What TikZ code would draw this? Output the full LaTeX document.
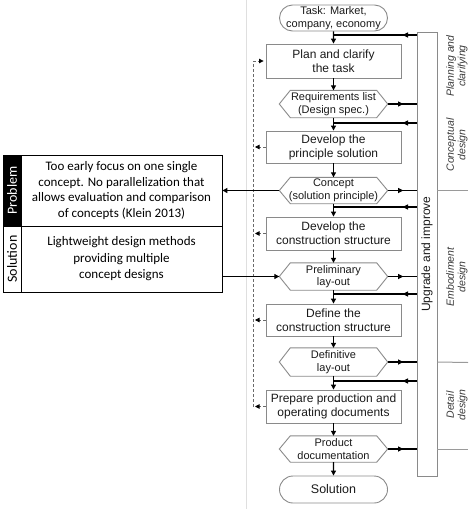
\documentclass[tikz,border=0pt]{standalone}
\usepackage{fontspec}
\setmainfont{Liberation Sans}
\newfontfamily\calfont{Carlito}
\usetikzlibrary{arrows.meta,shapes.misc,decorations.markings,calc}
\definecolor{boxgray}{HTML}{8A8A8A}
\definecolor{txt}{HTML}{1A1A1A}
\definecolor{secgray}{HTML}{9A9A9A}
\definecolor{labgray}{HTML}{3A3A3A}
\definecolor{dashgray}{HTML}{6A6A6A}
\begin{document}
\begin{tikzpicture}[x=1pt,y=-1pt,
  boxst/.style={draw=boxgray, line width=0.9pt, minimum width=135pt, minimum height=33pt, inner sep=0pt, align=center, font=\fontsize{12}{14}\selectfont, text=txt},
  hexst/.style={minimum width=108pt, minimum height=27pt, inner sep=0pt, align=center, font=\fontsize{11}{12.5}\selectfont, text=txt},
  termst/.style={draw=boxgray, rounded rectangle, line width=0.9pt, minimum width=108pt, minimum height=26pt, inner sep=0pt, align=center, text=txt},
  hexline/.style={draw=boxgray, line width=0.9pt},
  tipst/.style={-{Triangle[length=5pt,width=5pt]}},
  flow/.style={line width=1.1pt, black},
  fbin/.style={line width=1.4pt, black, postaction=decorate, decoration={markings, mark=at position 14pt with {\arrow{Triangle[length=5.5pt,width=5pt]}}}},
  fbout/.style={line width=1.4pt, black, postaction=decorate, decoration={markings, mark=at position -13pt with {\arrow{Triangle[length=5.5pt,width=5pt]}}}},
  dashst/.style={draw=dashgray, line width=0.8pt, dash pattern=on 3pt off 2pt},
  dtip/.style={-{Triangle[length=4.5pt,width=4.5pt,black]}},
  secline/.style={draw=secgray, line width=1pt},
  seclab/.style={rotate=90, align=center, text=labgray, font=\itshape\fontsize{10.5}{11.5}\selectfont},
  leftbox/.style={draw, line width=0.8pt, minimum width=201pt, inner sep=0pt, align=center},
  labbox/.style={draw, line width=0.8pt, minimum width=18pt, inner sep=0pt}
]
\useasboundingbox (0,0) rectangle (474,509);
\draw[gray!25, line width=0.8pt] (246,0) -- (246,509);

% flow nodes
\node[termst, font=\fontsize{11}{12.5}\selectfont] (task) at (333.5,18) {Task: Market,\\company, economy};
\node[boxst, minimum height=34pt] (plan) at (333.5,61) {Plan and clarify\\the task};
\node[hexst] (req) at (333.5,104) {Requirements list\\(Design spec.)};
\node[boxst, minimum height=32pt] (princ) at (333.5,147) {Develop the\\principle solution};
\node[hexst, minimum height=26pt] (concept) at (333.5,190.5) {Concept\\(solution principle)};
\node[boxst] (constr) at (333.5,233.5) {Develop the\\construction structure};
\node[hexst] (prelim) at (333.5,276.5) {Preliminary\\lay-out};
\node[boxst, minimum height=32pt] (define) at (333.5,320) {Define the\\construction structure};
\node[hexst, minimum height=28pt] (defin) at (333.5,362) {Definitive\\lay-out};
\node[boxst] (prep) at (333.5,406.5) {Prepare production and\\operating documents};
\node[hexst, minimum height=26pt] (prod) at (333.5,449) {Product\\documentation};
\node[termst, minimum height=27pt, font=\fontsize{12.5}{14}\selectfont] (sol) at (333.5,489.5) {Solution};

\foreach \n in {req,concept,prelim,defin,prod}
  \draw[hexline] (\n.west) -- ([xshift=11pt]\n.north west) -- ([xshift=-11pt]\n.north east) -- (\n.east) -- ([xshift=-11pt]\n.south east) -- ([xshift=11pt]\n.south west) -- cycle;

% bar
\node[draw=boxgray, line width=0.9pt, minimum width=20pt, minimum height=444pt, inner sep=0pt] (bar) at (427,254) {};
\node[rotate=90, text=txt, font=\fontsize{12}{14}\selectfont] (upg) at (bar.center) {Upgrade and improve};

% main flow
\draw[flow,tipst] (task) -- (plan);
\draw[flow,tipst] (plan) -- (req);
\draw[flow,tipst] (req) -- (princ);
\draw[flow,tipst] (princ) -- (concept);
\draw[flow,tipst] (concept) -- (constr);
\draw[flow,tipst] (constr) -- (prelim);
\draw[flow,tipst] (prelim) -- (define);
\draw[flow,tipst] (define) -- (defin);
\draw[flow,tipst] (defin) -- (prep);
\draw[flow,tipst] (prep) -- (prod);
\draw[flow,tipst] (prod) -- (sol);

% feedback from bar
\coordinate (f1) at (333.5,35);
\coordinate (f2) at (333.5,123);
\coordinate (f3) at (333.5,207);
\coordinate (f4) at (333.5,294);
\coordinate (f5) at (333.5,381);
\foreach \f in {f1,f2,f3,f4,f5}
  \draw[fbin] (\f -| bar.west) -- (\f);
\foreach \n in {req,concept,prelim,defin,prod}
  \draw[fbout] (\n.east) -- (\n.east -| bar.west);

% section lines and labels
\draw[secline] (bar.east |- concept.east) -- (468,190.5);
\draw[secline] (bar.east |- defin.east) -- (468,362.5);
\draw[secline] (bar.east |- prod.east) -- (468,449);
\node[seclab] (s1) at (457,66) {Planning and\\clarifying};
\node[seclab] (s2) at (457,145) {Conceptual\\design};
\node[seclab] (s3) at (457,277) {Embodiment\\design};
\node[seclab] (s4) at (457,405) {Detail\\design};

% dashed iteration line
\coordinate (dtop) at (253,61);
\coordinate (dbot) at (253,406.5);
\draw[dashst] (dbot) -- (dtop);
\draw[dashst,dtip] (dtop) -- ([xshift=-2pt]plan.west);
\foreach \n in {princ,constr,define,prep}
  \draw[dashst,dtip] (\n.west) -- ([xshift=2pt]\n.west -| dtop);

% left problem / solution box
\node[leftbox, minimum height=71pt, font=\calfont\fontsize{13}{15.7}\selectfont] (prob) at (121.5,190.5) {Too early focus on one single\\concept. No parallelization that\\allows evaluation and comparison\\of concepts (Klein 2013)};
\node[leftbox, minimum height=66pt, font=\calfont\fontsize{13}{16.5}\selectfont] (solu) at (121.5,259) {Lightweight design methods\\providing multiple\\concept designs};
\node[labbox, fill=black, minimum height=71pt] (plab) at (12,190.5) {};
\node[labbox, minimum height=66pt] (slab) at (12,259) {};
\node[rotate=90, text=white, font=\calfont\fontsize{14}{16}\selectfont] (ptxt) at (plab.center) {Problem};
\node[rotate=90, text=black, font=\calfont\fontsize{14}{16}\selectfont] (stxt) at (slab.center) {Solution};

\draw[flow,tipst] (concept.west) -- (concept.west -| prob.east);
\draw[flow,tipst] (solu.east |- prelim.west) -- (prelim.west);
\end{tikzpicture}
\end{document}
